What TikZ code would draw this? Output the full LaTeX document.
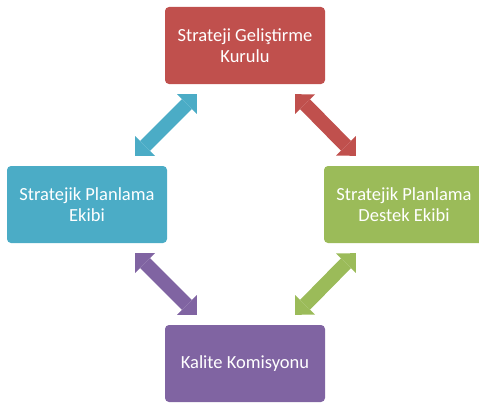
\documentclass[tikz,border=0pt]{standalone}
\usepackage{fontspec}
\setmainfont{Carlito}
\usetikzlibrary{calc,arrows.meta}
\definecolor{cred}{HTML}{C0504D}
\definecolor{cblue}{HTML}{4BACC6}
\definecolor{cgreen}{HTML}{9BBB59}
\definecolor{cpurple}{HTML}{8064A2}
\tikzset{
  box/.style={rectangle, rounded corners=4pt, minimum width=160pt, minimum height=77pt,
    inner sep=0pt, align=center, text=white, font=\fontsize{18.5}{21}\selectfont},
  dbl/.style={line width=14pt,
    {Triangle[width=28pt,length=14pt,line width=0pt]}-{Triangle[width=28pt,length=14pt,line width=0pt]}}
}
\begin{document}
\begin{tikzpicture}[x=1pt,y=-1pt]
\useasboundingbox (0,0) rectangle (479,404);
\node[box, fill=cred] (top) at (245,45.5) {Strateji Geliştirme\\Kurulu};
\node[box, fill=cblue] (left) at (87,204.5) {Stratejik Planlama\\Ekibi};
\node[box, fill=cgreen] (right) at (404,204.5) {Stratejik Planlama\\Destek Ekibi};
\node[box, fill=cpurple] (bottom) at (245,363.5) {Kalite Komisyonu};
\coordinate (b1) at ($(top.south west)+(32,10)$);
\coordinate (b2) at ($(left.north east)+(-32,-10)$);
\coordinate (r1) at ($(top.south east)+(-30,10)$);
\coordinate (r2) at ($(right.north west)+(32,-10)$);
\coordinate (p1) at ($(left.south east)+(-32,10)$);
\coordinate (p2) at ($(bottom.north west)+(32,-10)$);
\coordinate (g1) at ($(right.south west)+(32,10)$);
\coordinate (g2) at ($(bottom.north east)+(-30,-10)$);
\draw[dbl, cblue] (b2) -- (b1);
\draw[dbl, cred] (r1) -- (r2);
\draw[dbl, cpurple] (p1) -- (p2);
\draw[dbl, cgreen] (g1) -- (g2);
\end{tikzpicture}
\end{document}
